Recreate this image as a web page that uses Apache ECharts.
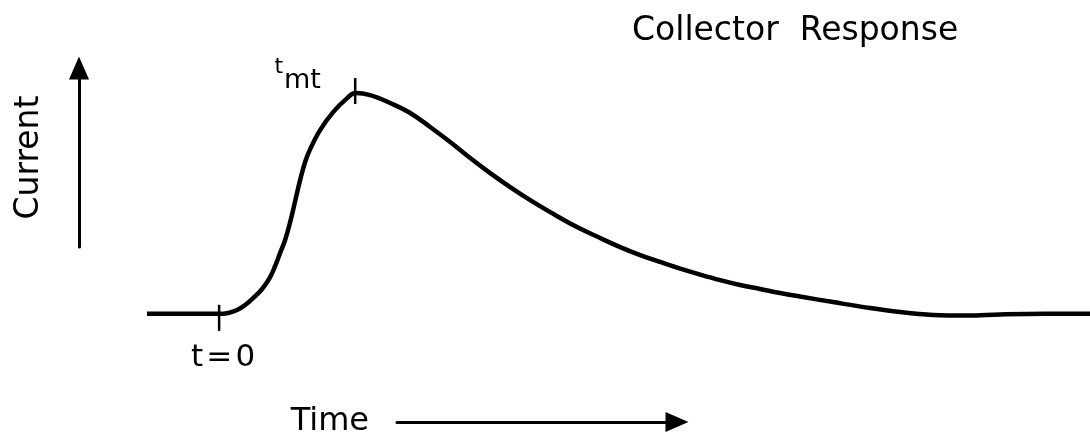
<!DOCTYPE html>
<html><head><meta charset="utf-8">
<script src="https://cdn.jsdelivr.net/npm/echarts@6/dist/echarts.min.js"></script>
<style>html,body{margin:0;padding:0;background:#fff}#c{width:1090px;height:441px}</style>
</head><body><div id="c"></div>
<script>
// Time in units of t_mt (time of peak), current normalised to peak
const timeValues = [-0.53, 0, 0.066, 0.132, 0.191, 0.250, 0.316, 0.375, 0.412, 0.448, 0.485, 0.522, 0.559, 0.595, 0.632, 0.669, 0.742, 0.838, 0.941, 1.000, 1.110, 1.257, 1.404, 1.551, 1.698, 1.845, 1.992, 2.139, 2.286, 2.433, 2.616, 2.800, 2.947, 3.094, 3.241, 3.388, 3.535, 3.682, 3.829, 3.976, 4.123, 4.270, 4.512, 4.762, 5.005, 5.247, 5.497, 5.740, 6.070, 6.400];
const currentValues = [0, 0, 0.004, 0.017, 0.040, 0.071, 0.112, 0.166, 0.216, 0.274, 0.333, 0.414, 0.509, 0.603, 0.685, 0.743, 0.829, 0.910, 0.973, 0.996, 0.987, 0.951, 0.906, 0.843, 0.775, 0.703, 0.635, 0.572, 0.513, 0.459, 0.396, 0.342, 0.301, 0.265, 0.234, 0.204, 0.177, 0.152, 0.130, 0.112, 0.094, 0.078, 0.053, 0.028, 0.008, -0.005, -0.008, -0.003, 0, 0];
const markerTimes = [0, 1];
const markerCurrents = [0, 0.996];
const markerLabels = ['t\u200a=\u200a0', '{a|t}{b|mt}'];
const titleText = 'Collector  Response';
const xAxisName = 'Time';
const yAxisName = 'Current';

const FONT = 'DejaVu Sans';
const chart = echarts.init(document.getElementById('c'));
const curve = timeValues.map((t, i) => [t, currentValues[i]]);
const hidden = {show: false};

chart.setOption({
  backgroundColor: '#fff',
  animation: false,
  title: {
    text: titleText, left: 632, top: 15, padding: 0,
    textStyle: {fontFamily: FONT, fontSize: 33, fontWeight: 'normal', color: '#000'}
  },
  grid: [
    {left: 147, right: 0, top: 70, bottom: 105},
    {left: 79, width: 1, top: 68, bottom: 194},
    {left: 397, right: 413, top: 421, bottom: 19}
  ],
  xAxis: [
    {type: 'value', gridIndex: 0, min: -0.53, max: 6.4, show: false},
    {type: 'value', gridIndex: 1, show: false},
    {type: 'value', gridIndex: 2, position: 'bottom',
      axisLine: {show: true, onZero: false, symbol: ['none', 'triangle'], symbolSize: [20, 23],
        lineStyle: {color: '#000', width: 3}},
      axisTick: hidden, axisLabel: hidden, splitLine: hidden,
      name: xAxisName, nameLocation: 'start', nameGap: 28,
      nameTextStyle: {fontFamily: FONT, fontSize: 32, color: '#000', align: 'right', verticalAlign: 'middle', padding: [10, 0, 0, 0]}}
  ],
  yAxis: [
    {type: 'value', gridIndex: 0, min: -0.1, max: 1.1, show: false},
    {type: 'value', gridIndex: 1, position: 'left',
      axisLine: {show: true, onZero: false, symbol: ['none', 'triangle'], symbolSize: [20, 23],
        lineStyle: {color: '#000', width: 3}},
      axisTick: hidden, axisLabel: hidden, splitLine: hidden,
      name: yAxisName, nameLocation: 'middle', nameRotate: 90, nameGap: 33,
      nameTextStyle: {fontFamily: FONT, fontSize: 33, color: '#000'}},
    {type: 'value', gridIndex: 2, show: false}
  ],
  series: [
    {
      type: 'line', xAxisIndex: 0, yAxisIndex: 0, data: curve,
      smooth: 0.4, showSymbol: false, clip: false,
      lineStyle: {color: '#000', width: 4.5}
    },
    {
      type: 'scatter', xAxisIndex: 0, yAxisIndex: 0, z: 5,
      symbol: 'rect', symbolSize: [2.5, 26],
      itemStyle: {color: '#000', opacity: 1},
      data: markerTimes.map((t, i) => ({
        value: [t, markerCurrents[i]],
        symbolOffset: i === 0 ? [0, 4] : [0, -2],
        label: i === 0
          ? {show: true, formatter: markerLabels[i], position: 'bottom', distance: 12, offset: [4, 0],
             fontFamily: FONT, fontSize: 31, color: '#000'}
          : {show: true, formatter: markerLabels[i], position: 'left', distance: 33, offset: [0, -16],
             rich: {
               a: {fontFamily: FONT, fontSize: 22, color: '#000', verticalAlign: 'top', lineHeight: 38, padding: [0, 1, 0, 0]},
               b: {fontFamily: FONT, fontSize: 27, color: '#000', verticalAlign: 'bottom', lineHeight: 38}
             }}
      }))
    }
  ]
});
</script>
</body></html>
